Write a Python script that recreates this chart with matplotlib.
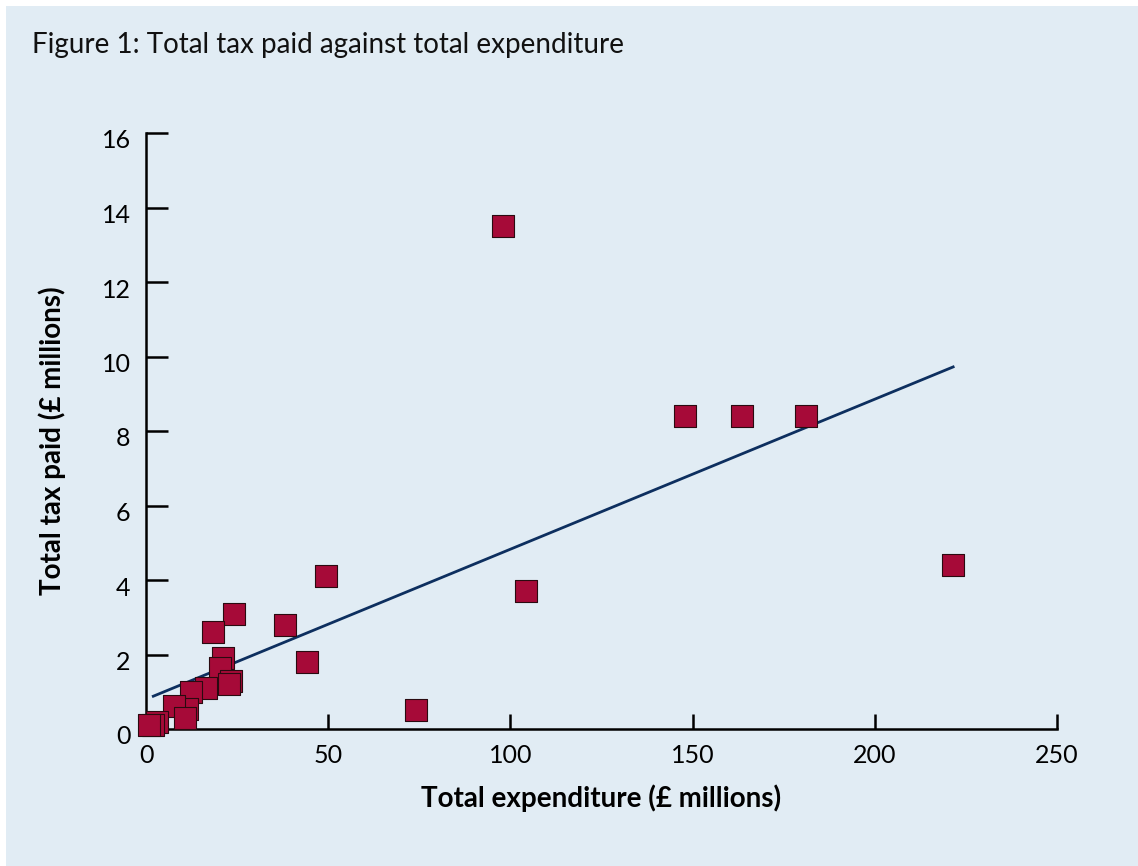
import matplotlib
matplotlib.use("Agg")
import matplotlib.pyplot as plt
import matplotlib.transforms as mtransforms
from matplotlib.patches import Rectangle

plt.rcParams['font.family'] = ['Lato', 'DejaVu Sans']

# Data
expenditure = [98, 148, 163.5, 181, 221.5, 104.3, 74.1, 49.4, 44.1, 38.1, 24.1,
               18.4, 21.1, 20.3, 23.2, 22.8, 16.6, 12.3, 11.3, 7.7, 10.7, 3.1, 2.0, 0.8]
tax_paid = [13.5, 8.4, 8.4, 8.4, 4.4, 3.7, 0.5, 4.1, 1.8, 2.8, 3.1,
            2.6, 1.9, 1.65, 1.3, 1.2, 1.1, 1.0, 0.55, 0.62, 0.3, 0.2, 0.12, 0.12]
fit_x = [2.0, 221.5]
fit_y = [0.88, 9.72]
x_ticks = [0, 50, 100, 150, 200, 250]
y_ticks = [0, 2, 4, 6, 8, 10, 12, 14, 16]

bg = '#e1ecf4'
fig = plt.figure(figsize=(11.38, 8.66), dpi=100, facecolor='white')
fig.patches.append(Rectangle((6/1138, 0), 1, 1 - 6/866, transform=fig.transFigure,
                             facecolor=bg, edgecolor='none', zorder=-10))

ax = fig.add_axes([146/1138, 1 - 729/866, (1057 - 146)/1138, (729 - 133)/866])
ax.set_facecolor('none')
ax.set_xlim(0, 250)
ax.set_ylim(0, 16)

ax.plot(fit_x, fit_y, color='#0d2f5f', lw=2.0, zorder=2)
ax.scatter(expenditure, tax_paid, marker='s', s=15.5**2, color='#a60a38',
           edgecolors='#2a0a10', linewidths=0.8, zorder=3, clip_on=False)

for s in ['top', 'right']:
    ax.spines[s].set_visible(False)
for s in ['left', 'bottom']:
    ax.spines[s].set_linewidth(1.8)
    ax.spines[s].set_color('black')

ax.set_xticks(x_ticks)
ax.set_yticks(y_ticks)
ax.tick_params(axis='y', direction='in', length=16, width=1.8, pad=11, labelsize=18)
ax.tick_params(axis='x', direction='in', length=11, width=1.8, pad=11, labelsize=18)

off = mtransforms.ScaledTranslation(0, -6/100, fig.dpi_scale_trans)
for lab in ax.get_yticklabels():
    lab.set_transform(lab.get_transform() + off)

ax.set_xlabel('Total expenditure (£ millions)', fontsize=20, fontweight='bold', labelpad=12)
ax.set_ylabel('Total tax paid (£ millions)', fontsize=20, fontweight='bold')
ax.yaxis.set_label_coords(66/1138, 0.483, transform=mtransforms.blended_transform_factory(fig.transFigure, ax.transAxes))

fig.text(32/1138, 1 - 45/866, 'Figure 1: Total tax paid against total expenditure',
         fontsize=20, va='center', ha='left', color='#111111')

fig.savefig('out.png', dpi=100, facecolor=fig.get_facecolor())
